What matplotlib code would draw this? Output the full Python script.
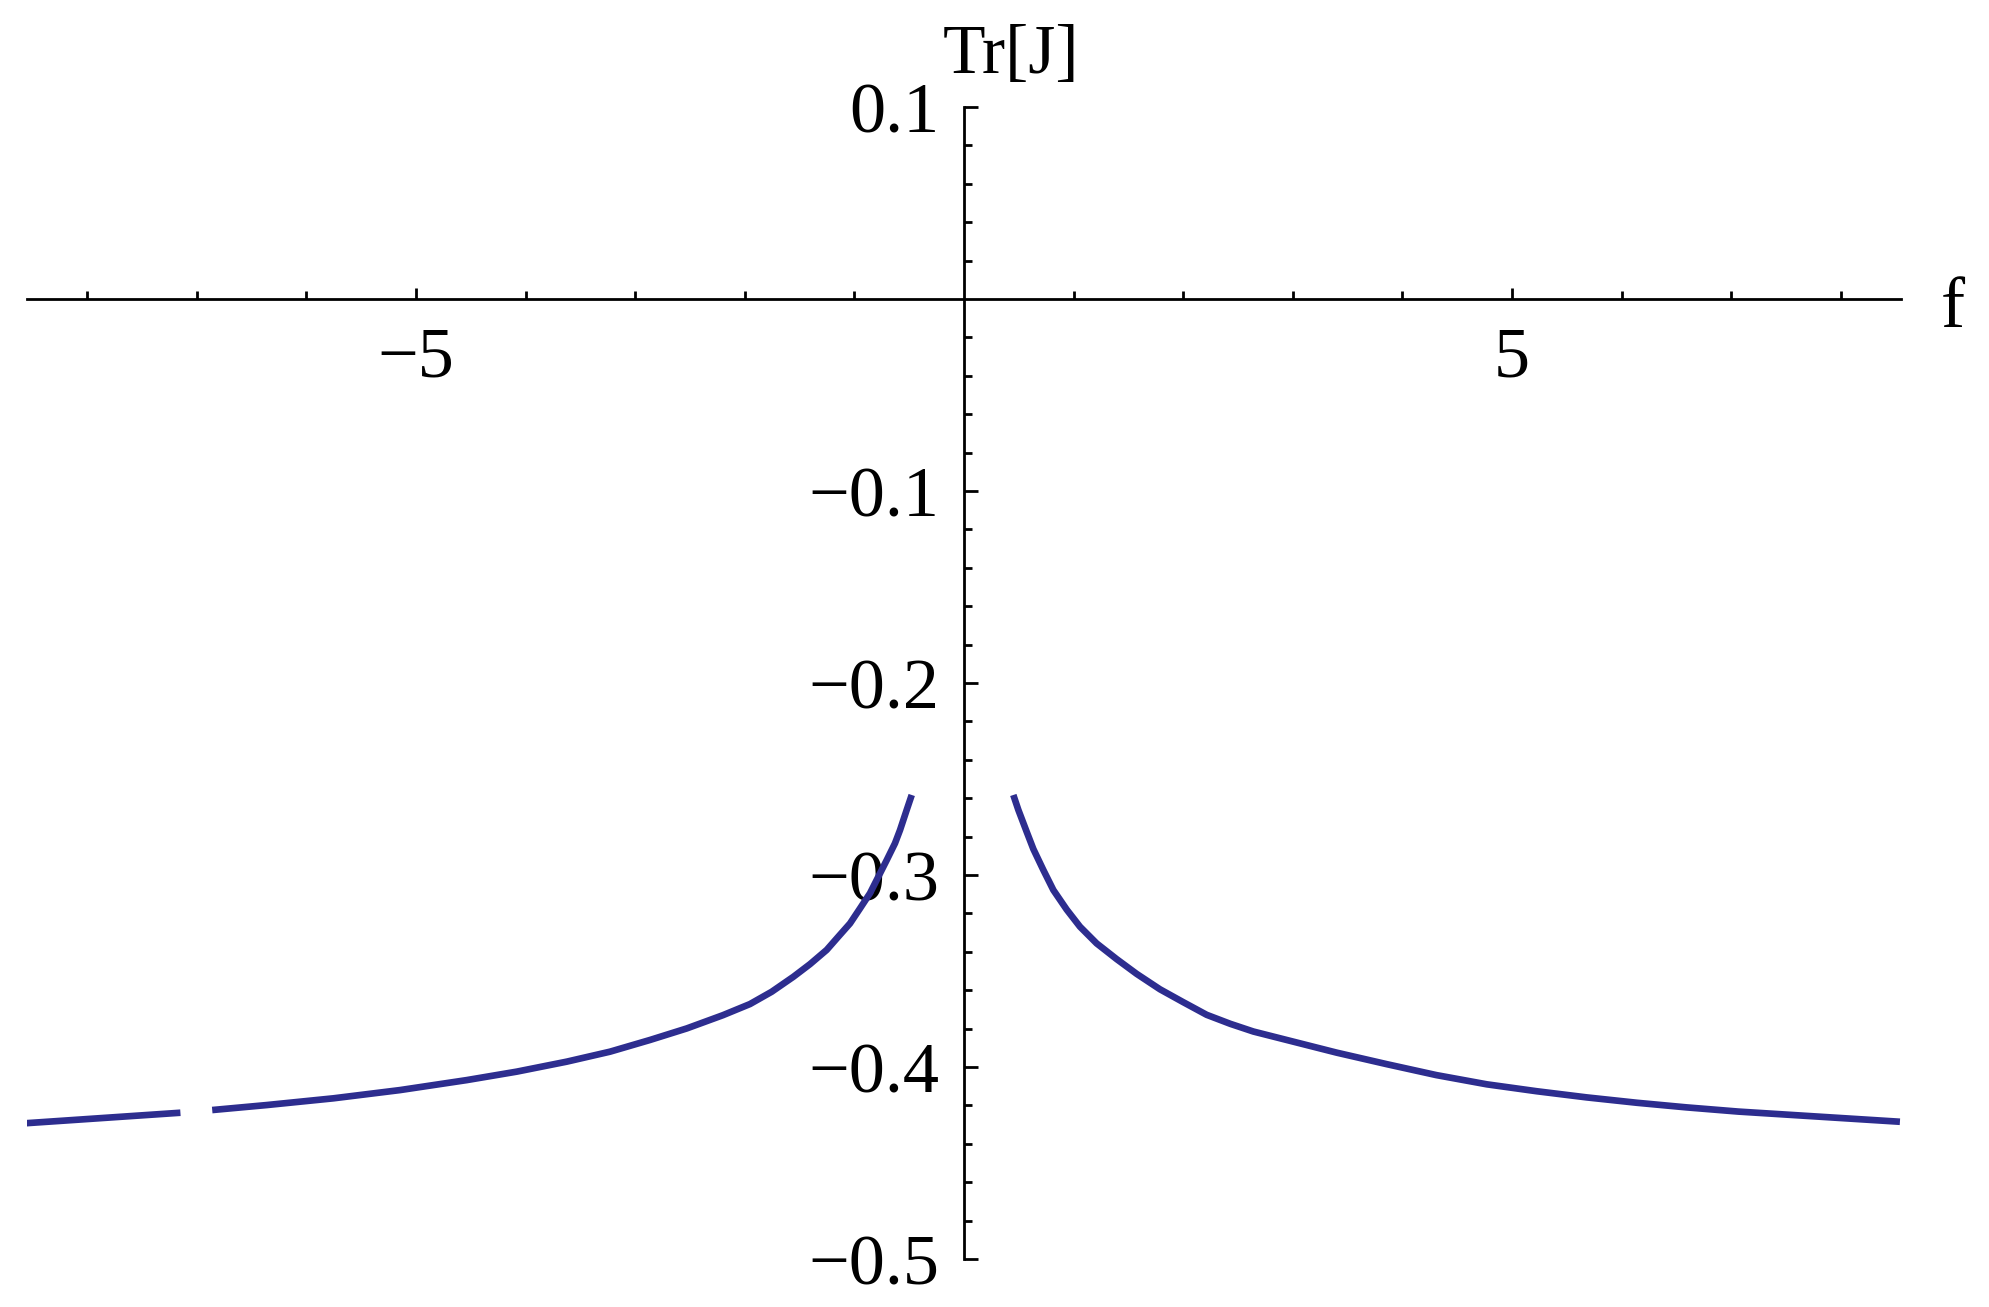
import numpy as np
import matplotlib
matplotlib.use("Agg")
import matplotlib.pyplot as plt
from matplotlib.ticker import FixedLocator, FuncFormatter

plt.rcParams['font.family'] = ['Liberation Serif', 'DejaVu Serif']

# Curve (left branch has a small break near f = -7)
left_f = [-8.57, -7.15, np.nan, -6.86, -6.362, -5.755, -5.146, -4.537, -4.081,
          -3.625, -3.23, -2.865, -2.53, -2.2, -1.953, -1.755, -1.557, -1.405,
          -1.253, -1.147, -1.04, -0.949, -0.858, -0.782, -0.705, -0.63, -0.584,
          -0.523, -0.477]
left_tr = [-0.4293, -0.4238, np.nan, -0.4224, -0.4198, -0.4163, -0.412, -0.4068, -0.4024,
           -0.3972, -0.392, -0.3859, -0.3799, -0.373, -0.3672, -0.3608, -0.353, -0.3464,
           -0.339, -0.3321, -0.3252, -0.3174, -0.3095, -0.3009, -0.2922, -0.2835, -0.2766,
           -0.2661, -0.2583]
right_f = [0.45, 0.496, 0.572, 0.633, 0.724, 0.815, 0.937, 1.058, 1.21, 1.393,
           1.576, 1.788, 2.0, 2.214, 2.43, 2.64, 2.944, 3.4, 3.857, 4.31, 4.77,
           5.225, 5.68, 6.138, 6.59, 7.065, 8.54]
right_tr = [-0.2583, -0.2661, -0.2775, -0.2865, -0.2974, -0.3078, -0.318, -0.3269, -0.3356,
            -0.3438, -0.3515, -0.3595, -0.3662, -0.3728, -0.3775, -0.3815, -0.3859, -0.3925,
            -0.3985, -0.4042, -0.409, -0.4126, -0.4158, -0.4186, -0.421, -0.4232, -0.4285]

x_major = [-5, 5]
x_minor = [-8, -7, -6, -4, -3, -2, -1, 1, 2, 3, 4, 6, 7, 8]
y_major = [0.1, -0.1, -0.2, -0.3, -0.4, -0.5]
y_minor = [v / 100 for v in range(-48, 10, 2) if v % 10 != 0]

line_color = '#2d2d8f'

fig = plt.figure(figsize=(19.89, 13.07), dpi=100)
ax = fig.add_axes([0.01357, 0.0367, 0.9422, 0.8814])

ax.plot(left_f, left_tr, color=line_color, lw=4.8, solid_capstyle='butt', solid_joinstyle='round')
ax.plot(right_f, right_tr, color=line_color, lw=4.8, solid_capstyle='butt', solid_joinstyle='round')

ax.set_xlim(-8.55, 8.55)
ax.set_ylim(-0.5, 0.1)

# Mathematica style axes crossing at the origin
ax.spines['left'].set_position(('data', 0))
ax.spines['bottom'].set_position(('data', 0))
ax.spines['top'].set_visible(False)
ax.spines['right'].set_visible(False)
for s in ('left', 'bottom'):
    ax.spines[s].set_linewidth(2.0)

ax.xaxis.set_major_locator(FixedLocator(x_major))
ax.xaxis.set_minor_locator(FixedLocator(x_minor))
ax.yaxis.set_major_locator(FixedLocator(y_major))
ax.yaxis.set_minor_locator(FixedLocator(y_minor))

ax.xaxis.set_major_formatter(FuncFormatter(lambda v, p: f"{v:g}".replace('-', '\u2212')))
ax.yaxis.set_major_formatter(FuncFormatter(lambda v, p: f"{v:.1f}".replace('-', '\u2212')))

ax.tick_params(axis='both', which='both', direction='in', width=2.0, labelsize=52)
ax.tick_params(axis='y', which='major', length=10, pad=18)
ax.tick_params(axis='y', which='minor', length=5.5)
ax.tick_params(axis='x', which='major', length=8, pad=20)
ax.tick_params(axis='x', which='minor', length=5.5)

fig.text(943 / 1989, 1 - 73 / 1307, 'Tr[J]', fontsize=50, ha='left', va='baseline')
fig.text(1941 / 1989, 1 - 327 / 1307, 'f', fontsize=52, ha='left', va='baseline')

fig.savefig('out.png', dpi=100, facecolor='white')
